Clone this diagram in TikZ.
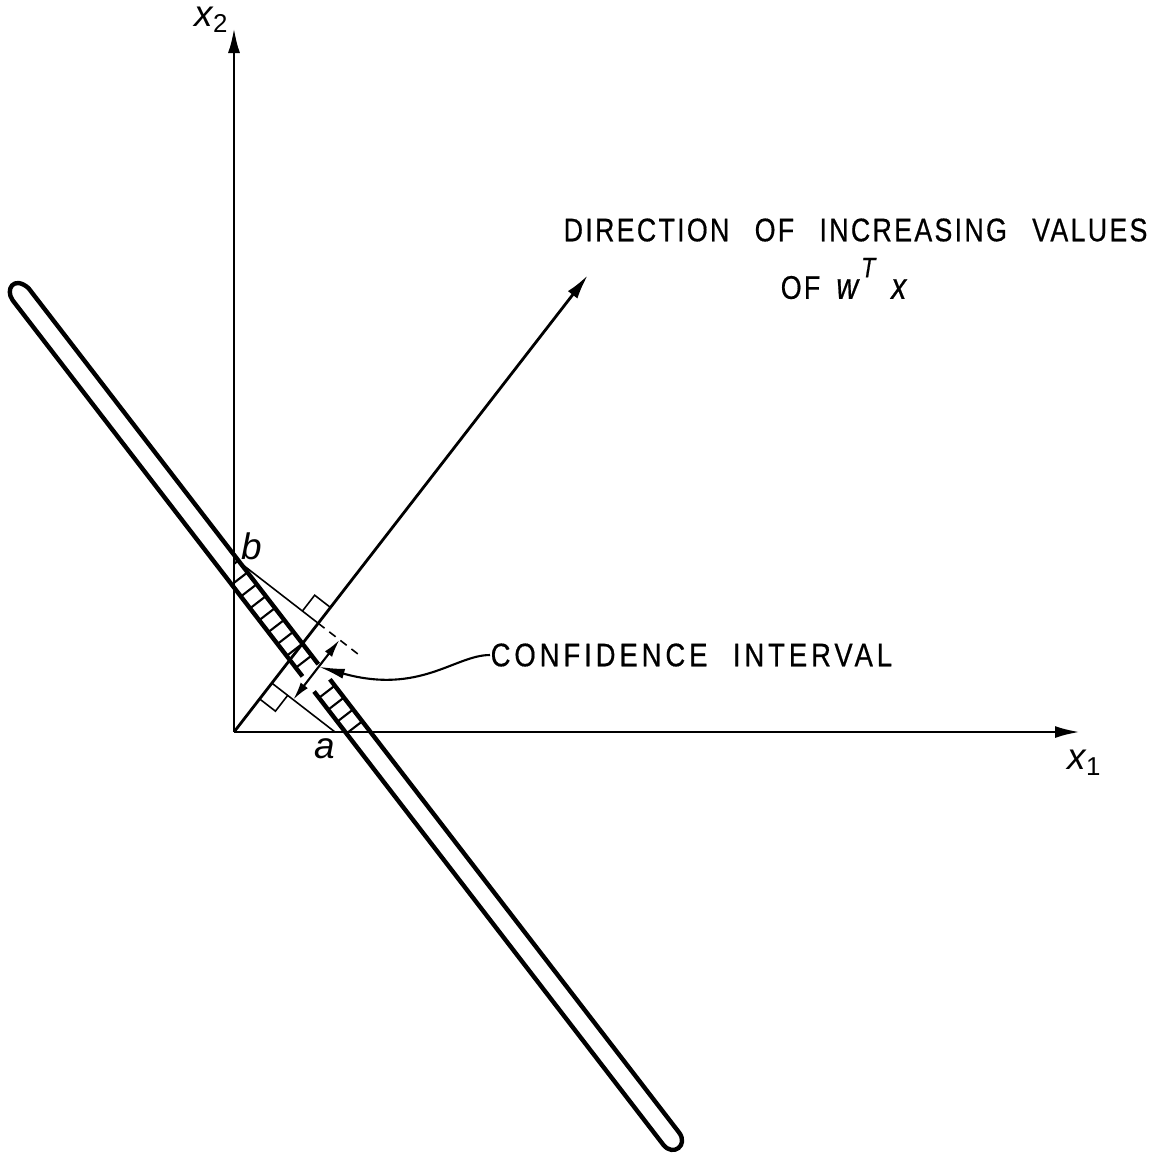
\documentclass[tikz,border=0pt]{standalone}
\usepackage{fontspec}
\setmainfont{Liberation Sans}
\newfontfamily\lettering[FakeStretch=0.82,FakeBold=0.5,LetterSpace=7,WordSpace=2.6]{Liberation Sans}
\newfontfamily\letteringwide[FakeStretch=0.84,FakeBold=0.5,LetterSpace=12,WordSpace=2.2]{Liberation Sans}
\usetikzlibrary{arrows.meta,positioning,calc}

\begin{document}
\begin{tikzpicture}[
  x=0.1mm, y=-0.1mm,
  axisline/.style={line width=0.8pt, -{Latex[length=2.5mm,width=1.2mm]}},
  guide/.style={line width=0.45pt},
  band/.style={line width=1.25pt, line join=round},
  hatch/.style={line width=0.6pt},
  dimarrow/.style={line width=0.6pt, {Latex[length=1.8mm,width=0.9mm]}-{Latex[length=1.8mm,width=0.9mm]}},
  pointer/.style={line width=0.6pt, -{Latex[length=2.6mm,width=1mm]}},
  caption/.style={font=\lettering\fontsize{9.3pt}{11pt}\selectfont, inner sep=0pt},
  lbl/.style={font=\fontsize{10.5pt}{12pt}\selectfont\itshape, inner sep=0pt}
]
\useasboundingbox (0,0) rectangle (1159,1161);

\coordinate (o) at (234,732);
\coordinate (x1end) at (1080,732);
\coordinate (x2end) at (234,28);
\coordinate (wtip) at (588,275);
\coordinate (b) at (234,558);
\coordinate (a) at (335,732);
\coordinate (g) at ($(o)!(b)!(wtip)$);
\coordinate (f) at ($(o)!(a)!(wtip)$);
\coordinate (hi) at ($(g)!-2.7mm!(b)$);
\coordinate (lo) at ($(f)!2.7mm!(a)$);
\coordinate (dashend) at ($(g)!-5mm!(b)$);
\coordinate (gu) at ($(g)!2mm!(wtip)$);
\coordinate (gn) at ($(g)!2mm!(b)$);
\coordinate (fu) at ($(f)!2mm!(o)$);
\coordinate (fn) at ($(f)!2mm!(a)$);
\coordinate (cimid) at ($(lo)!0.55!(hi)$);

% axes and direction of w
\draw[axisline] (o) -- (x1end);
\draw[axisline] (o) -- (x2end);
\draw[axisline] (o) -- (wtip);

% the band, cut in two
\draw[band] (302.5,676.4) -- (12.6,300.2) .. controls (5.0,289.5) and (13.6,275.3) .. (28.4,288.0) -- (318.3,664.2);
\draw[band] (314.1,691.5) -- (663.2,1144.6) .. controls (673.0,1157.3) and (688.8,1145.1) .. (679.0,1132.4) -- (329.9,679.3);
\begin{scope}
  \clip (234,0) rectangle (1159,732);
  \foreach \s in {358,373,...,478}
    \draw[hatch] ({12+0.6103*\s-7.92},{283+0.7921*\s+6.1}) -- ({12+0.6103*\s+7.92},{283+0.7921*\s-6.1});
  \foreach \s in {516,531,...,576}
    \draw[hatch] ({12+0.6103*\s-7.92},{283+0.7921*\s+6.1}) -- ({12+0.6103*\s+7.92},{283+0.7921*\s-6.1});
\end{scope}

% projections of a and b
\draw[guide] (b) -- (g);
\draw[guide, dash pattern=on 0.8mm off 0.6mm] (g) -- (dashend);
\draw[guide] (a) -- (f);
\draw[guide] (gu) -- ($(gu)+(gn)-(g)$) -- (gn);
\draw[guide] (fu) -- ($(fu)+(fn)-(f)$) -- (fn);
\draw[dimarrow] (lo) -- (hi);

\node[lbl] (blbl) at (252,546) {b};
\node[lbl] (albl) at (325,749) {a};
\node[lbl] (x2lbl) at (212,20) {x\textsubscript{\upshape 2}};
\node[lbl] (x1lbl) at (1085,763) {x\textsubscript{\upshape 1}};

\node[caption, anchor=west] (dirtxt) at (563,230) {DIRECTION OF INCREASING VALUES};
\node[caption, below=1.5mm of dirtxt, xshift=-1.2mm] (oftxt) {OF\hspace{1.6mm}{\fontsize{10.5pt}{11pt}\selectfont\itshape w\hspace{0.3mm}\raisebox{1.1ex}{\fontsize{8pt}{9pt}\selectfont T}\hspace{1.6mm}x}};
\node[caption, font=\letteringwide\fontsize{9.3pt}{11pt}\selectfont, anchor=west] (conftxt) at (490,655) {CONFIDENCE INTERVAL};
\draw[pointer] (conftxt.west) .. controls (455,655) and (420,695) .. (cimid);
\end{tikzpicture}
\end{document}
